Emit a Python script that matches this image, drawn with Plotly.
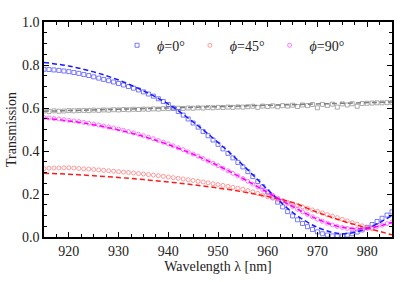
import plotly.graph_objects as go

# ---------------- data ----------------
wl = list(range(915, 986))  # 1 nm steps

blue_data = [.780, .779, .777, .775, .772, .769, .765, .761, .756, .751,
             .745, .739, .733, .727, .721, .714, .707, .700, .692, .684,
             .675, .665, .655, .643, .630, .616, .600, .584, .567, .549,
             .530, .511, .491, .471, .451, .431, .410, .389, .368, .347,
             .326, .304, .281, .258, .234, .210, .186, .162, .140, .118,
             .098, .080, .063, .048, .035, .024, .015, .009, .005, .004,
             .005, .009, .015, .023, .033, .045, .058, .072, .087, .102, .117]

magenta_data = [.556, .554, .551, .549, .546, .543, .540, .537, .533, .529,
                .525, .521, .516, .512, .507, .502, .496, .490, .484, .478,
                .471, .464, .457, .449, .441, .433, .424, .415, .406, .396,
                .386, .376, .365, .354, .343, .332, .320, .308, .296, .284,
                .272, .259, .246, .233, .220, .207, .194, .181, .168, .155,
                .142, .129, .117, .105, .094, .083, .073, .064, .056, .049,
                .044, .040, .037, .036, .037, .040, .044, .049, .055, .062, .070]

wl_pink = list(range(915, 982))
pink_data = [.318, .320, .321, .321, .322, .322, .321, .319, .317, .316,
             .314, .312, .310, .308, .306, .304, .302, .300, .298, .295,
             .293, .290, .288, .285, .282, .279, .276, .273, .270, .266,
             .263, .259, .256, .252, .248, .244, .240, .236, .231, .227,
             .222, .216, .210, .203, .195, .187, .180, .174, .168, .161,
             .154, .147, .140, .133, .126, .119, .112, .104, .097, .090,
             .082, .075, .067, .060, .052, .045, .038]

gray_data = [.586, .584, .587, .585, .586, .588, .587, .588, .589, .588,
             .590, .589, .591, .590, .592, .591, .593, .592, .594, .593,
             .595, .594, .596, .595, .597, .597, .598, .599, .598, .600,
             .599, .601, .600, .602, .601, .603, .602, .604, .603, .605,
             .604, .606, .608, .603, .609, .607, .610, .606, .611, .609,
             .613, .607, .614, .611, .616, .601, .617, .612, .618, .604,
             .619, .614, .620, .608, .621, .622, .623, .624, .624, .625, .626]

wl_fit = [915, 920, 925, 930, 935, 940, 945, 950, 955, 960, 965, 970, 975, 980, 985]
blue_fit = [.812, .795, .768, .730, .680, .618, .535, .440, .335, .220, .115, .045, .015, .040, .100]
magenta_fit = [.552, .540, .522, .498, .468, .430, .385, .332, .272, .207, .142, .083, .045, .040, .068]
red_fit = [.296, .292, .285, .277, .267, .256, .243, .228, .210, .188, .160, .115, .075, .042, .010]
gray_fit_x = [915, 985]
gray_fit = [.585, .628]

legend_names = ["<i>ϕ</i>=0°", "<i>ϕ</i>=45°", "<i>ϕ</i>=90°"]

# ---------------- figure ----------------
SERIF = "Liberation Serif"
fig = go.Figure()

fig.add_trace(go.Scatter(x=wl, y=gray_data, mode="markers", showlegend=False,
                         marker=dict(symbol="square-open", size=4, color="rgba(150,150,150,0.8)",
                                     line=dict(width=1))))
fig.add_trace(go.Scatter(x=gray_fit_x, y=gray_fit, mode="lines", showlegend=False,
                         line=dict(color="#808080", width=1.5, dash="5px,3px")))

fig.add_trace(go.Scatter(x=wl, y=blue_data, mode="markers", name=legend_names[0],
                         marker=dict(symbol="square-open", size=4, color="rgba(90,90,255,0.8)",
                                     line=dict(width=1))))
fig.add_trace(go.Scatter(x=wl_pink, y=pink_data, mode="markers", name=legend_names[1],
                         marker=dict(symbol="circle-open", size=4, color="rgba(255,130,130,0.8)",
                                     line=dict(width=1))))
fig.add_trace(go.Scatter(x=wl, y=magenta_data, mode="markers", name=legend_names[2],
                         marker=dict(symbol="circle-open", size=4, color="rgba(255,90,255,0.8)",
                                     line=dict(width=1))))

fig.add_trace(go.Scatter(x=wl_fit, y=blue_fit, mode="lines", showlegend=False, line_shape="spline",
                         line=dict(color="#1a1aff", width=1.5, dash="5px,3px")))
fig.add_trace(go.Scatter(x=wl_fit, y=red_fit, mode="lines", showlegend=False, line_shape="spline",
                         line=dict(color="#ff1a1a", width=1.5, dash="5px,3px")))
fig.add_trace(go.Scatter(x=wl_fit, y=magenta_fit, mode="lines", showlegend=False, line_shape="spline",
                         line=dict(color="#ff00ff", width=1.5, dash="5px,3px")))

axis_font = dict(family=SERIF, size=14, color="#222")
common = dict(showline=True, linecolor="black", linewidth=1.5, mirror="ticks",
              ticks="inside", ticklen=5, tickwidth=1, tickcolor="black",
              showgrid=False, zeroline=False, automargin=False, tickfont=axis_font)

fig.update_xaxes(range=[915, 985], dtick=10, tick0=920,
                 title=dict(text="Wavelength λ [nm]", font=axis_font, standoff=4),
                 minor=dict(dtick=2.5, tick0=915, ticks="inside", ticklen=3, tickcolor="black"),
                 **common)
fig.update_yaxes(range=[0, 1.0], dtick=0.2, tickformat=".1f",
                 title=dict(text="Transmission", font=axis_font, standoff=2),
                 minor=dict(dtick=0.05, ticks="inside", ticklen=3, tickcolor="black"),
                 **common)

fig.update_layout(
    width=415, height=282,
    margin=dict(l=44, r=23, t=22, b=45),
    paper_bgcolor="white", plot_bgcolor="white",
    font=dict(family=SERIF, size=14, color="#222"),
    legend=dict(orientation="h", x=0.21, y=0.89, xanchor="left", yanchor="middle",
                bgcolor="rgba(0,0,0,0)", font=dict(family=SERIF, size=14),
                itemwidth=30, tracegroupgap=0),
)

fig.write_html("out.html", config={"displayModeBar": False},
               post_script="document.body.style.margin='0';document.body.style.padding='0';")
